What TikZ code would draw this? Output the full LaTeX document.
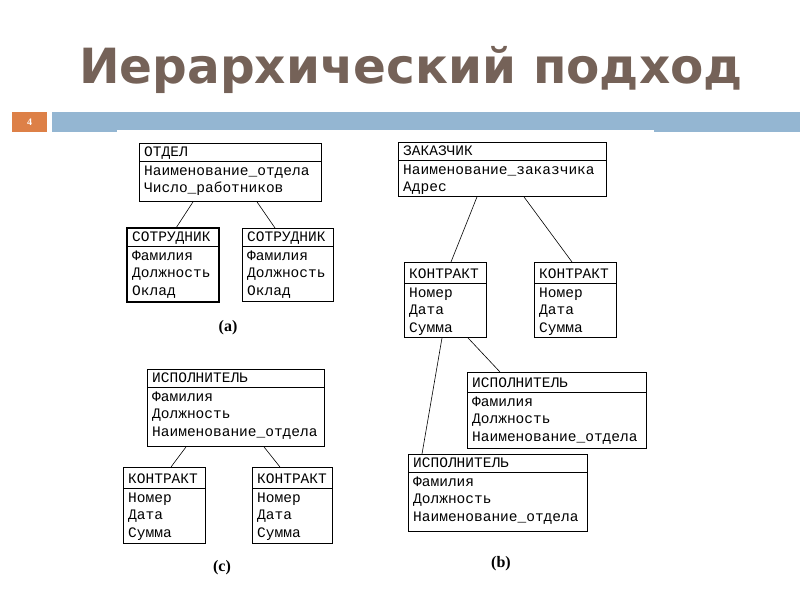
\documentclass[tikz,border=0pt]{standalone}
\usepackage{fontspec}
\setmainfont{Liberation Serif}
\newfontfamily\monof{Liberation Mono}
\newfontfamily\titlef{DejaVu Sans}
\usetikzlibrary{calc}
\definecolor{titlec}{RGB}{117,98,88}
\definecolor{orangec}{RGB}{221,128,71}
\definecolor{barc}{RGB}{148,182,210}
\tikzset{
  tbl/.style={draw=black, line width=0.9pt, inner sep=0pt, anchor=north west},
  ttext/.style={anchor=base west, inner sep=0pt, font=\monof\fontsize{14.5}{16}\selectfont},
  link/.style={draw=black, line width=0.6pt},
  sublabel/.style={font=\bfseries\fontsize{16}{18}\selectfont, anchor=base, inner sep=0pt},
}
\newcommand\erbox[8][18]{%
  \pgfmathsetmacro\bw{#5-#3}\pgfmathsetmacro\bh{#6-#4}%
  \node[tbl, minimum width=\bw pt, minimum height=\bh pt] (#2) at (#3,#4) {};
  \draw[line width=0.9pt] ($(#2.north west)+(0,#1)$) -- ($(#2.north east)+(0,#1)$);
  \node[ttext] (#2-h) at ($(#2.north west)+(5,#1-5)$) {#7};
  \foreach \r [count=\i from 0] in {#8} {
    \node[ttext] (#2-r\i) at ($(#2.north west)+(5,#1+14+17.8*\i)$) {\r};
  }
}
\begin{document}
\begin{tikzpicture}[x=1pt,y=-1pt]
\useasboundingbox (0,0) rectangle (800,600);
% title
\node[font=\titlef\bfseries\fontsize{48.5}{60}\selectfont, text=titlec, anchor=base, inner sep=0pt] (title) at (411,83) {Иерархический подход};
% header bar
\node[fill=barc, anchor=north west, minimum width=748pt, minimum height=20pt, inner sep=0pt] (bar) at (52,112) {};
\fill[white] (117,130) rectangle (654,134);
\node[fill=orangec, anchor=north west, minimum width=35pt, minimum height=20pt, inner sep=0pt, text=white, font=\bfseries\fontsize{10}{12}\selectfont] (num) at (12,112) {4};

% (a)
\erbox{otdel}{139}{143}{321}{201}{ОТДЕЛ}{Наименование\_отдела,Число\_работников}
\erbox{sotrA}{127}{228}{218}{301}{СОТРУДНИК}{Фамилия,Должность,Оклад}
\draw[line width=1.6pt] (sotrA.north west) rectangle (sotrA.south east);
\erbox{sotrB}{242}{228}{333}{301}{СОТРУДНИК}{Фамилия,Должность,Оклад}
\draw[link] ($(otdel.south west)+(54,0)$) -- ($(sotrA.north west)+(49,0)$);
\draw[link] ($(otdel.south west)+(118,0)$) -- ($(sotrB.north west)+(33,0)$);
\node[sublabel] (la) at (228,331) {(a)};

% (b)
\erbox{zak}{398}{142}{606}{196}{ЗАКАЗЧИК}{Наименование\_заказчика,Адрес}
\erbox[21]{konA}{404}{262}{486}{337}{КОНТРАКТ}{Номер,Дата,Сумма}
\erbox[21]{konB}{534}{262}{616}{337}{КОНТРАКТ}{Номер,Дата,Сумма}
\erbox[20]{ispA}{467}{372}{646}{448}{ИСПОЛНИТЕЛЬ}{Фамилия,Должность,Наименование\_отдела}
\erbox{ispB}{408}{454}{587}{531}{ИСПОЛНИТЕЛЬ}{Фамилия,Должность,Наименование\_отдела}
\draw[link] ($(zak.south west)+(79,0)$) -- ($(konA.north west)+(47,0)$);
\draw[link] ($(zak.south west)+(126,0)$) -- ($(konB.north west)+(38,0)$);
\draw[link] ($(konA.south west)+(38,0)$) -- ($(ispB.north west)+(14,0)$);
\draw[link] ($(konA.south west)+(64,0)$) -- ($(ispA.north west)+(33,0)$);
\node[sublabel] (lb) at (501,567) {(b)};

% (c)
\erbox{ispC}{147}{369}{324}{446}{ИСПОЛНИТЕЛЬ}{Фамилия,Должность,Наименование\_отдела}
\erbox[21]{konC}{123}{467}{205}{543}{КОНТРАКТ}{Номер,Дата,Сумма}
\erbox[21]{konD}{252}{467}{332}{543}{КОНТРАКТ}{Номер,Дата,Сумма}
\draw[link] ($(ispC.south west)+(39,0)$) -- ($(konC.north west)+(48,0)$);
\draw[link] ($(ispC.south west)+(117,0)$) -- ($(konD.north west)+(28,0)$);
\node[sublabel] (lc) at (222,571) {(c)};
\end{tikzpicture}
\end{document}
